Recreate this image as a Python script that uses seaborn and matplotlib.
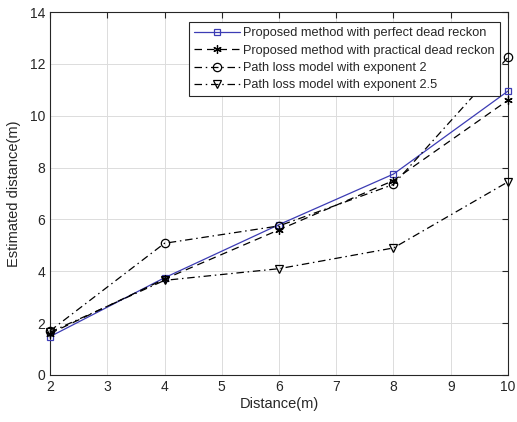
import matplotlib
matplotlib.use("Agg")
import matplotlib.pyplot as plt
import seaborn as sns
import pandas as pd

distance = [2, 4, 6, 8, 10]
perfect = [1.48, 3.75, 5.8, 7.75, 10.95]
practical = [1.6, 3.7, 5.6, 7.5, 10.6]
exp2 = [1.7, 5.08, 5.75, 7.35, 12.25]
exp25 = [1.65, 3.65, 4.1, 4.9, 7.45]
labels = ["Proposed method with perfect dead reckon",
          "Proposed method with practical dead reckon",
          "Path loss model with exponent 2",
          "Path loss model with exponent 2.5"]

sns.set_style("white")
plt.rcParams['font.family'] = ['Liberation Sans', 'DejaVu Sans']

fig = plt.figure(figsize=(5.17, 4.22), dpi=100)
ax = fig.add_axes([50/517, 1-375/422, 458/517, 363/422])

series = [perfect, practical, exp2, exp25]
styles = [dict(color='#3c3cb4', linestyle='-', marker='s', ms=5),
          dict(color='black', linestyle=(0, (6, 4)), marker=(6, 2, 0), ms=6),
          dict(color='black', linestyle=(0, (6, 3, 1.2, 3)), marker='o', ms=6),
          dict(color='black', linestyle=(0, (6, 3, 1.2, 3)), marker='v', ms=6)]
for vals, lab, st in zip(series, labels, styles):
    df = pd.DataFrame({'x': distance, 'y': vals})
    sns.lineplot(data=df, x='x', y='y', ax=ax, label=lab, color=st['color'],
                 linestyle=st['linestyle'], marker=st['marker'], markersize=st['ms'],
                 markerfacecolor='none', markeredgecolor=st['color'],
                 markeredgewidth=0.9, linewidth=0.9, clip_on=False, zorder=3)

ax.set_xlim(2, 10)
ax.set_ylim(0, 14)
ax.set_xticks(range(2, 11))
ax.set_yticks(range(0, 15, 2))
ax.grid(True, color='#dcdcdc', linewidth=0.7)
ax.tick_params(direction='in', top=True, right=True, length=4, labelsize=10,
               colors='#262626', labelcolor='#262626')
for s in ax.spines.values():
    s.set_color('#262626')
    s.set_linewidth(0.8)
ax.set_xlabel('Distance(m)', fontsize=10.5, color='#262626', labelpad=2)
ax.set_ylabel('Estimated distance(m)', fontsize=10.5, color='#262626', labelpad=6)
leg = ax.legend(loc='upper right', bbox_to_anchor=(0.983, 0.972), fontsize=9.2,
                frameon=True, fancybox=False, framealpha=1, edgecolor='#262626',
                handlelength=3.6, handletextpad=0.3, borderpad=0.4, labelspacing=0.42,
                borderaxespad=0)
leg.get_frame().set_linewidth(0.8)
leg.set_zorder(5)
fig.savefig('out.png', dpi=100)
